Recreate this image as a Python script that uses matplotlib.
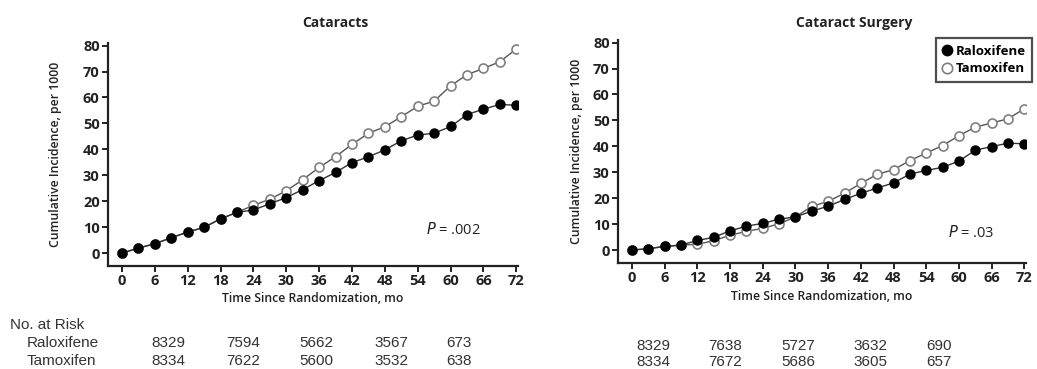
import matplotlib
matplotlib.use("Agg")
import matplotlib.pyplot as plt
from matplotlib.lines import Line2D

# ---------------- data ----------------
months = [0, 3, 6, 9, 12, 15, 18, 21, 24, 27, 30, 33, 36, 39, 42, 45, 48, 51, 54, 57, 60, 63, 66, 69, 72]

cat_ralox = [0, 1.9, 3.6, 5.9, 8.1, 9.9, 13.2, 15.7, 16.6, 19.0, 21.4, 24.5, 27.9, 31.1, 34.9,
             37.1, 39.8, 43.3, 45.5, 46.2, 48.8, 53.4, 55.5, 57.3, 57.0]
cat_tamox = [0, 1.9, 3.6, 5.9, 8.1, 9.9, 13.2, 15.7, 18.4, 20.8, 24.0, 28.3, 33.0, 37.2, 41.9,
             46.2, 48.7, 52.6, 56.6, 58.6, 64.5, 68.8, 71.2, 73.8, 78.7]

surg_ralox = [0, 0.5, 1.4, 1.9, 3.7, 4.9, 7.4, 9.2, 10.3, 11.9, 12.8, 15.0, 16.9, 19.5, 21.9,
              23.9, 25.9, 29.3, 30.7, 31.9, 34.3, 38.5, 39.9, 41.2, 41.0]
surg_tamox = [0, 0.5, 1.4, 1.9, 2.2, 3.6, 5.7, 7.2, 8.4, 10.1, 12.8, 16.8, 18.8, 21.9, 25.7,
              29.2, 31.0, 34.5, 37.4, 40.3, 44.1, 47.4, 49.0, 50.6, 54.5]

titles = ["Cataracts", "Cataract Surgery"]
p_texts = [".002", ".03"]
series_names = ["Raloxifene", "Tamoxifen"]

xticks = list(range(0, 73, 6))
yticks = list(range(0, 81, 10))

risk_cat_ralox = ["8329", "7594", "5662", "3567", "673"]
risk_cat_tamox = ["8334", "7622", "5600", "3532", "638"]
risk_surg_ralox = ["8329", "7638", "5727", "3632", "690"]
risk_surg_tamox = ["8334", "7672", "5686", "3605", "657"]

# ---------------- layout ----------------
W, H = 1037, 369
fig = plt.figure(figsize=(W / 100, H / 100), dpi=100)
FONT = ["Open Sans", "DejaVu Sans"]
NARROW = ["Liberation Sans", "DejaVu Sans"]
plt.rcParams["font.family"] = FONT


def fx(px):
    return px / W


def fy(py):
    return 1 - py / H


def make_axes(x0, x1, ytop, ybot):
    return fig.add_axes([fx(x0), fy(ybot), fx(x1) - fx(x0), fy(ytop) - fy(ybot)])


ax1 = make_axes(108, 518, 43, 266)
ax2 = make_axes(618, 1026, 40, 263)

panels = [
    (ax1, cat_ralox, cat_tamox, p_texts[0], (60.5, 9), 15),
    (ax2, surg_ralox, surg_tamox, p_texts[1], (62.2, 6.6), 7),
]

spine_col = "#222222"
for ax, ral, tam, ptxt, ppos, ypad in panels:
    ax.plot(months, tam, "-o", color="#555555", lw=1.0, ms=6.5,
            mfc="white", mec="#808080", mew=1.2, zorder=2)
    ax.plot(months, ral, "-o", color="#333333", lw=1.0, ms=6.5,
            mfc="black", mec="black", mew=1.0, zorder=3)
    ax.set_xlim(-2.56, 72.3)
    ax.set_ylim(-5.0, 81.0)
    ax.set_xticks(xticks)
    ax.set_yticks(yticks)
    for s in ["top", "right"]:
        ax.spines[s].set_visible(False)
    for s in ["left", "bottom"]:
        ax.spines[s].set_linewidth(1.6)
        ax.spines[s].set_color(spine_col)
    ax.tick_params(direction="out", length=4, width=1.4, color=spine_col,
                   labelsize=10.5, pad=2, labelcolor="#222222")
    for lab in ax.get_xticklabels() + ax.get_yticklabels():
        lab.set_fontweight("bold")
    ax.set_xlabel("Time Since Randomization, mo", fontsize=8.8, fontweight="semibold",
                  color="#222222", labelpad=3)
    ax.set_ylabel("Cumulative Incidence, per 1000", fontsize=8.8, fontweight="semibold",
                  color="#222222", labelpad=ypad)
    ax.text(ppos[0], ppos[1], r"$\it{P}$" + " = " + ptxt, ha="center", va="center",
            fontsize=10.5, color="#222222")

fig.text(fx(335), fy(23), titles[0], ha="center", va="center", fontsize=10,
         fontweight="bold", color="#222222")
fig.text(fx(854), fy(23), titles[1], ha="center", va="center", fontsize=10,
         fontweight="bold", color="#222222")

leg_handles = [
    Line2D([], [], ls="none", marker="o", ms=7.5, mfc="black", mec="black"),
    Line2D([], [], ls="none", marker="o", ms=7.5, mfc="white", mec="#808080", mew=1.2),
]
leg = fig.legend(leg_handles, series_names, loc="upper right",
                 bbox_to_anchor=(fx(1032), fy(38)),
                 frameon=True, fancybox=False, edgecolor="#222222", handlelength=0.6,
                 handletextpad=0.35, borderpad=0.5, labelspacing=0.35, borderaxespad=0,
                 prop={"family": FONT, "weight": "bold", "size": 9.5})
leg.get_frame().set_linewidth(1.6)

# ---------------- number at risk table ----------------
tcol = "#333333"
TS = 11
fig.text(fx(10), fy(325), "No. at Risk", ha="left", va="center", fontsize=TS,
         family=NARROW, color=tcol)
fig.text(fx(27), fy(343), series_names[0], ha="left", va="center", fontsize=TS,
         family=NARROW, color=tcol)
fig.text(fx(27), fy(361), series_names[1], ha="left", va="center", fontsize=TS,
         family=NARROW, color=tcol)

left_cols = [168, 243, 316, 391, 459]
right_cols = [653, 725, 798, 870, 939]
for xs, r1, r2, y1, y2 in [(left_cols, risk_cat_ralox, risk_cat_tamox, 343, 361),
                           (right_cols, risk_surg_ralox, risk_surg_tamox, 346, 362)]:
    for x, a, b in zip(xs, r1, r2):
        fig.text(fx(x), fy(y1), a, ha="center", va="center", fontsize=TS,
                 family=NARROW, color=tcol)
        fig.text(fx(x), fy(y2), b, ha="center", va="center", fontsize=TS,
                 family=NARROW, color=tcol)

fig.savefig("out.png", dpi=100)
